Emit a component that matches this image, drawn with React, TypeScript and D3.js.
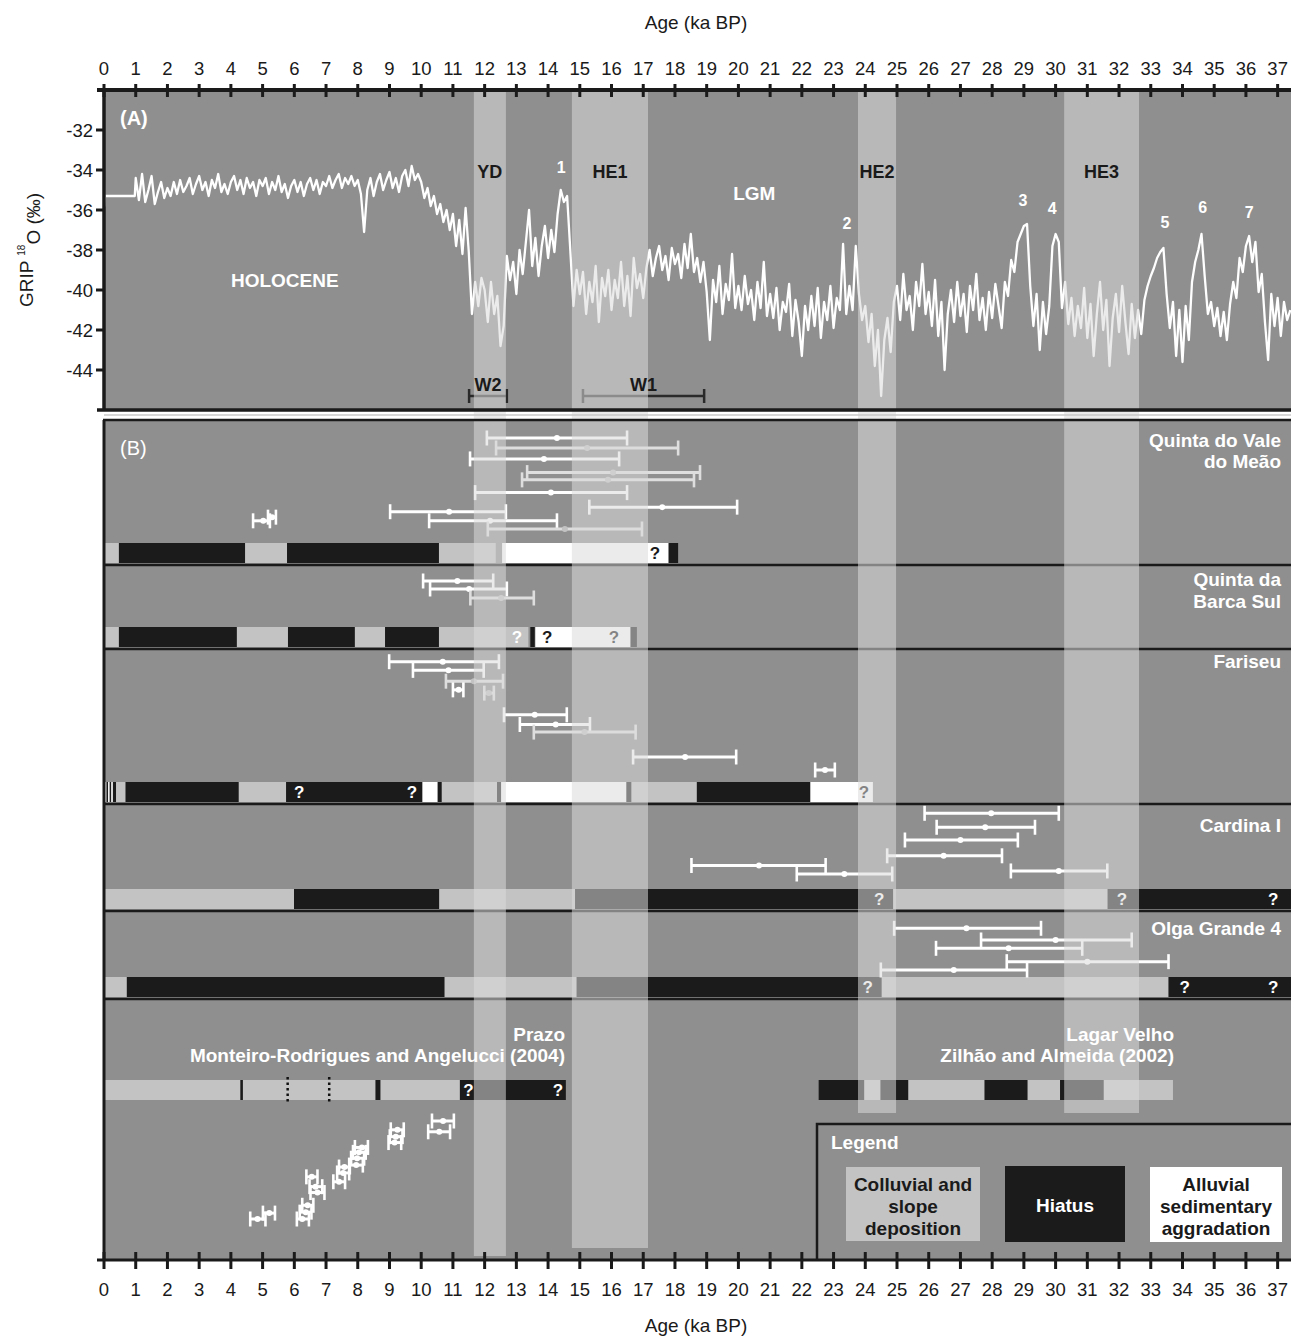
import React from "react";
import * as d3 from "d3";

// ---------- data ----------

// GRIP d18O (permil). First ka is a flat splice, then 0.1-ka samples from 1.0 ka
const gripHeadAge = [0, 0.01, 0.03, 0.97];
const gripHeadValue = [-34.5, -35.8, -35.3, -35.3];
const gripStepStart = 1.0;
const gripStep = 0.1;
const gripRows = [
  [-34.4, -35.5, -34.2, -35.6, -35.0, -34.3, -35.7, -35.1, -34.6, -35.4], // 1 ka
  [-34.9, -35.3, -34.6, -35.2, -34.5, -35.1, -34.8, -34.4, -35.2, -34.7],
  [-34.3, -35.0, -34.6, -35.3, -34.5, -34.9, -34.2, -35.1, -34.7, -35.2],
  [-34.6, -34.3, -35.0, -34.5, -35.2, -34.4, -34.9, -34.6, -35.3, -34.5],
  [-34.8, -34.4, -35.2, -34.6, -35.0, -34.3, -35.1, -34.7, -35.4, -34.8], // 5
  [-34.5, -35.1, -34.6, -35.3, -34.7, -34.4, -35.0, -34.5, -35.2, -34.6],
  [-34.8, -34.3, -34.9, -34.5, -34.2, -34.9, -34.4, -34.7, -34.3, -34.8],
  [-34.5, -35.2, -37.1, -35.0, -34.4, -35.3, -34.6, -34.2, -35.0, -34.5],
  [-34.1, -34.9, -34.4, -35.1, -34.3, -34.0, -34.8, -33.8, -34.5, -34.2],
  [-34.6, -35.4, -34.9, -35.8, -35.3, -36.2, -35.7, -36.6, -36.0, -37.0], // 10
  [-36.2, -37.8, -36.5, -38.2, -35.9, -38.1, -41.2, -39.6, -40.8, -39.4],
  [-40.0, -41.6, -39.6, -41.2, -40.3, -42.8, -41.8, -38.3, -39.5, -38.6],
  [-40.2, -38.0, -39.2, -37.6, -36.0, -38.8, -37.4, -39.3, -37.8, -36.8],
  [-38.4, -37.0, -38.1, -36.2, -35.0, -35.6, -35.3, -38.0, -40.8, -39.0],
  [-40.2, -39.1, -41.2, -39.6, -40.6, -38.8, -41.6, -39.4, -40.3, -39.0], // 15
  [-41.0, -39.5, -40.4, -38.6, -40.8, -39.3, -41.3, -38.4, -39.9, -39.2],
  [-40.4, -38.9, -38.0, -39.3, -38.4, -37.8, -39.0, -38.3, -39.5, -37.9],
  [-38.7, -38.2, -39.4, -37.7, -38.9, -37.2, -39.1, -38.4, -39.6, -38.6],
  [-40.1, -42.5, -39.5, -40.6, -38.8, -41.2, -39.7, -40.5, -38.2, -40.9],
  [-39.8, -41.0, -39.3, -40.7, -40.0, -41.5, -39.6, -40.9, -38.6, -41.3], // 20
  [-40.2, -41.4, -39.9, -42.0, -40.6, -41.1, -39.7, -42.3, -40.5, -41.6],
  [-43.3, -40.8, -42.0, -40.3, -41.8, -39.9, -42.4, -40.6, -41.5, -39.8],
  [-41.9, -40.4, -41.0, -37.7, -41.2, -39.8, -41.0, -37.8, -40.2, -41.5],
  [-40.8, -42.6, -41.2, -43.8, -42.0, -45.3, -42.5, -41.4, -43.1, -40.6],
  [-39.8, -41.5, -39.2, -41.0, -40.3, -42.0, -39.6, -40.8, -38.7, -41.2], // 25
  [-40.1, -41.8, -39.5, -42.3, -40.6, -44.0, -41.2, -40.0, -41.6, -39.6],
  [-41.3, -40.2, -42.1, -39.8, -41.0, -39.2, -41.5, -40.4, -42.0, -40.1],
  [-41.4, -39.7, -40.8, -41.9, -39.6, -40.3, -38.5, -39.1, -37.6, -37.2],
  [-36.8, -36.7, -39.8, -41.8, -40.2, -43.0, -40.6, -42.2, -40.8, -37.8],
  [-37.2, -37.6, -40.9, -39.6, -41.7, -40.4, -42.3, -40.8, -41.9, -39.9], // 30
  [-42.4, -40.7, -43.3, -41.2, -39.6, -42.0, -40.5, -43.8, -41.4, -40.2],
  [-42.1, -39.8, -41.6, -43.2, -40.7, -42.4, -41.0, -42.2, -40.5, -39.8],
  [-39.3, -38.9, -38.4, -38.1, -37.9, -40.2, -41.9, -40.6, -43.3, -41.0],
  [-43.6, -40.8, -42.5, -39.6, -38.6, -38.0, -37.2, -39.3, -41.2, -40.6],
  [-41.8, -40.9, -42.3, -41.1, -42.5, -40.7, -39.6, -40.4, -38.4, -39.1], // 35
  [-37.8, -37.3, -38.6, -37.6, -40.1, -39.2, -41.6, -43.5, -40.2, -41.8],
  [-40.4, -42.3, -40.6, -41.5, -41.0],
];

// cold events (ka)
const bandNames = ["YD", "HE1", "HE2", "HE3"];
const bandStart = [11.66, 14.75, 23.77, 30.27];
const bandEnd = [12.67, 17.15, 24.97, 32.63];

// interstadial numbers and where their labels sit (ka, permil)
const eventNames = ["1", "2", "3", "4", "5", "6", "7"];
const eventAge = [14.41, 23.42, 28.97, 29.89, 33.45, 34.64, 36.1];
const eventLabelLevel = [-33.85, -36.65, -35.5, -35.9, -36.6, -35.85, -36.1];

// dating windows
const windowNames = ["W2", "W1"];
const windowStart = [11.51, 15.1];
const windowEnd = [12.7, 18.92];

// stratigraphic units: C colluvial, H hiatus, A alluvial  [unit, from ka, to ka]
type Unit = [string, number, number];
const qvmUnits: Unit[] = [["C", 0, 0.47], ["H", 0.47, 4.45], ["C", 4.45, 5.77], ["H", 5.77, 10.56], ["C", 10.56, 12.35], ["A", 12.55, 17.8], ["H", 17.8, 18.1]];
const qbsUnits: Unit[] = [["C", 0, 0.47], ["H", 0.47, 4.19], ["C", 4.19, 5.8], ["H", 5.8, 7.91], ["C", 7.91, 8.86], ["H", 8.86, 10.56], ["C", 10.56, 13.38], ["H", 13.44, 13.58], ["A", 13.6, 16.6], ["H", 16.6, 16.8]];
const farUnits: Unit[] = [["A", 0.03, 0.08], ["H", 0.08, 0.13], ["A", 0.13, 0.18], ["H", 0.18, 0.23], ["A", 0.23, 0.28], ["H", 0.28, 0.38], ["C", 0.38, 0.68], ["H", 0.68, 4.25], ["C", 4.25, 5.74], ["H", 5.74, 10.04], ["A", 10.04, 10.52], ["H", 10.52, 10.65], ["C", 10.65, 12.39], ["H", 12.39, 12.52], ["A", 12.52, 16.47], ["H", 16.47, 16.63], ["C", 16.63, 18.69], ["H", 18.69, 22.27], ["A", 22.27, 24.24]];
const carUnits: Unit[] = [["C", 0, 5.99], ["H", 5.99, 10.57], ["C", 10.57, 14.85], ["H", 14.85, 24.88], ["C", 24.88, 31.64], ["H", 31.64, 37.5]];
const olgUnits: Unit[] = [["C", 0, 0.72], ["H", 0.72, 10.74], ["C", 10.74, 14.9], ["H", 14.9, 24.52], ["C", 24.52, 33.56], ["H", 33.56, 37.5]];
const przUnits: Unit[] = [["C", 0, 4.3], ["H", 4.3, 4.38], ["C", 4.38, 8.56], ["H", 8.56, 8.72], ["C", 8.72, 11.22], ["H", 11.22, 14.56]];
const lagUnits: Unit[] = [["H", 22.53, 23.97], ["C", 23.97, 24.48], ["H", 24.48, 25.36], ["C", 25.36, 27.76], ["H", 27.76, 29.12], ["C", 29.12, 30.14], ["H", 30.14, 31.52], ["C", 31.52, 33.7]];

// uncertain boundaries (ka)
const qvmQueries = [17.37];
const qbsQueries = [13.02, 13.97, 16.08];
const farQueries = [6.15, 9.71, 23.96];
const carQueries = [24.44, 32.09, 36.86];
const olgQueries = [24.08, 34.07, 36.86];
const przQueries = [11.49, 14.31];
const przDotted = [5.79, 7.1];

// luminescence ages [min, age, max, plotting order 0-10, set]
type Dated = [number, number, number, number, number];
const qvmDates: Dated[] = [
  [12.07, 14.28, 16.49, 0, 0], [12.36, 15.23, 18.1, 1.1, 1], [11.54, 13.87, 16.24, 2.3, 0],
  [13.34, 16.05, 18.79, 3.8, 1], [13.18, 15.89, 18.6, 4.6, 1], [11.7, 14.09, 16.49, 6.0, 0],
  [15.3, 17.6, 19.96, 7.6, 0], [9.02, 10.88, 12.67, 8.1, 0], [10.25, 12.17, 14.28, 9.1, 0],
  [12.1, 14.53, 16.96, 10, 1], [4.7, 5.02, 5.23, 9.1, 0], [5.17, 5.3, 5.42, 8.7, 0],
];
const qbsDates: Dated[] = [[10.06, 11.14, 12.27, 0, 0], [10.28, 11.51, 12.7, 4.7, 0], [11.55, 12.52, 13.55, 10, 1]];
const farDates: Dated[] = [
  [8.99, 10.68, 12.45, 0, 0], [9.74, 10.86, 11.97, 0.8, 0], [10.78, 11.66, 12.58, 1.8, 1],
  [11.0, 11.18, 11.33, 2.6, 0], [11.99, 12.13, 12.29, 2.9, 1], [12.61, 13.58, 14.59, 4.9, 0],
  [13.11, 14.24, 15.32, 5.8, 0], [13.55, 15.15, 16.76, 6.5, 1], [16.68, 18.32, 19.93, 8.8, 0],
  [22.42, 22.73, 23.04, 10, 0],
];
const carDates: Dated[] = [
  [25.87, 27.97, 30.1, 0, 0], [26.25, 27.78, 29.35, 2.3, 0], [25.25, 27.0, 28.81, 4.4, 0],
  [24.69, 26.47, 28.31, 7.0, 0], [18.52, 20.65, 22.75, 8.6, 0], [21.84, 23.34, 24.85, 10, 0],
  [28.59, 30.1, 31.63, 9.5, 0],
];
const olgDates: Dated[] = [
  [24.91, 27.19, 29.54, 0, 0], [27.65, 30.0, 32.4, 2.8, 0], [26.23, 28.52, 30.84, 4.8, 0],
  [28.46, 31.0, 33.56, 8.0, 0], [24.49, 26.79, 29.1, 10, 0],
];
const przDates: Dated[] = [
  [4.61, 4.84, 5.09, 10, 0], [5.01, 5.21, 5.39, 9.4, 0], [6.08, 6.25, 6.46, 10, 0],
  [6.17, 6.36, 6.54, 9.3, 0], [6.25, 6.42, 6.6, 8.6, 0], [6.38, 6.55, 6.73, 5.7, 0],
  [6.48, 6.67, 6.88, 6.7, 0], [6.51, 6.73, 6.95, 7.3, 0], [7.23, 7.41, 7.6, 6.2, 0],
  [7.35, 7.54, 7.73, 5.3, 0], [7.41, 7.58, 7.75, 4.7, 0], [7.73, 7.95, 8.16, 4.5, 0],
  [7.79, 7.98, 8.2, 3.8, 0], [7.85, 8.04, 8.25, 3.2, 0], [7.91, 8.13, 8.32, 2.7, 0],
  [8.97, 9.16, 9.37, 2.2, 0], [9.01, 9.2, 9.41, 1.6, 0], [9.04, 9.25, 9.45, 0.9, 0],
  [10.34, 10.69, 11.03, 0, 0], [10.22, 10.57, 10.91, 1.1, 0],
];

// ---------- layout / style ----------
const FONT = "'Liberation Sans', Arial, Helvetica, sans-serif";
const BG = "#8f8f8f";
const INK = "#1a1a1a";
const UNIT_FILL: Record<string, string> = { C: "#c3c3c3", H: "#1b1b1b", A: "#ffffff" };
const DATE_STROKE = ["#ffffff", "#dedede"];
const DATE_DOT = ["#ffffff", "#c2c2c2"];
const TICK_FS = 18.5;
const LABEL_FS = 19;

const sites = [
  { units: qvmUnits, dates: qvmDates, queries: qvmQueries, label: ["Quinta do Vale", "do Meão"], labelX: 1281, labelY: [440, 461], barTop: 543, lanes: [438, 529], sep: 565 },
  { units: qbsUnits, dates: qbsDates, queries: qbsQueries, label: ["Quinta da", "Barca Sul"], labelX: 1281, labelY: [579, 601], barTop: 627, lanes: [581, 598], sep: 649 },
  { units: farUnits, dates: farDates, queries: farQueries, label: ["Fariseu"], labelX: 1281, labelY: [661], barTop: 782, lanes: [661.7, 770], sep: 804 },
  { units: carUnits, dates: carDates, queries: carQueries, label: ["Cardina I"], labelX: 1281, labelY: [825], barTop: 889, lanes: [813.3, 874], sep: 911 },
  { units: olgUnits, dates: olgDates, queries: olgQueries, label: ["Olga Grande 4"], labelX: 1281, labelY: [928], barTop: 977, lanes: [928.3, 970], sep: 999 },
  { units: przUnits, dates: przDates, queries: przQueries, label: ["Prazo", "Monteiro-Rodrigues and Angelucci (2004)"], labelX: 565, labelY: [1034, 1055], barTop: 1080, lanes: [1121, 1219], sep: null },
  { units: lagUnits, dates: [] as Dated[], queries: [] as number[], label: ["Lagar Velho", "Zilhão and Almeida (2002)"], labelX: 1174, labelY: [1034, 1055], barTop: 1080, lanes: [0, 10], sep: null },
];
const bandBottom = [1256, 1248, 1113, 1113];
const BAR_H = 20;

function unitAt(units: Unit[], t: number) {
  const u = units.find(d => t >= d[1] && t <= d[2]);
  return u ? u[0] : "C";
}

export default function App() {
  const x = d3.scaleLinear().domain([0, 37]).range([104, 104 + 37 * 31.72]);
  const yA = d3.scaleLinear().domain([-46, -30]).range([410, 90]);

  const gripValues = gripRows.flat();
  const gripAge = [
    ...gripHeadAge,
    ...gripValues.map((_, i) => +(gripStepStart + i * gripStep).toFixed(2)),
  ];
  const gripAll = [...gripHeadValue, ...gripValues];
  const curve = d3
    .line<number>()
    .x((_, i) => x(gripAge[i]))
    .y(v => yA(v))(gripAll);

  const kaTicks = x.ticks(37);
  const yTicks = [-32, -34, -36, -38, -40, -42, -44];

  return (
    <svg width={1291} height={1336} style={{ display: "block", fontFamily: FONT }}>
      <style>{`body{margin:0}`}</style>
      <rect width={1291} height={1336} fill="#fff" />

      {/* panel backgrounds */}
      <rect x={104} y={90} width={1200} height={320} fill={BG} />
      <rect x={104} y={420} width={1200} height={840} fill={BG} />

      {/* GRIP curve */}
      <path d={curve || ""} fill="none" stroke="#fff" strokeWidth={2.3} strokeLinejoin="round" />

      {/* dating windows */}
      {windowNames.map((w, i) => (
        <g key={w} stroke="#2a2a2a" strokeWidth={2.5}>
          <line x1={x(windowStart[i])} x2={x(windowEnd[i])} y1={yA(-45.3)} y2={yA(-45.3)} />
          <line x1={x(windowStart[i])} x2={x(windowStart[i])} y1={yA(-45.3) - 7} y2={yA(-45.3) + 7} />
          <line x1={x(windowEnd[i])} x2={x(windowEnd[i])} y1={yA(-45.3) - 7} y2={yA(-45.3) + 7} />
        </g>
      ))}

      {/* panel B: site sequences */}
      {sites.map((s, si) => {
        const lane = d3.scaleLinear().domain([0, 10]).range(s.lanes);
        return (
          <g key={si}>
            {s.units.map((u, i) => (
              <rect key={i} x={x(u[1])} y={s.barTop} width={x(u[2]) - x(u[1])} height={BAR_H} fill={UNIT_FILL[u[0]]} />
            ))}
            {s.queries.map((q, i) => (
              <text key={i} x={x(q)} y={s.barTop + BAR_H / 2} dy="0.36em" textAnchor="middle" fontSize={17} fontWeight="bold"
                fill={unitAt(s.units, q) === "A" ? INK : "#fff"}>?</text>
            ))}
            {s.sep !== null && (
              <line x1={104} x2={1291} y1={s.sep} y2={s.sep} stroke={INK} strokeWidth={2.5} />
            )}
            {s.dates.map((d, i) => {
              const yy = lane(d[3]);
              return (
                <g key={i} stroke={DATE_STROKE[d[4]]}>
                  <line x1={x(d[0])} x2={x(d[2])} y1={yy} y2={yy} strokeWidth={3} />
                  <line x1={x(d[0])} x2={x(d[0])} y1={yy - 7.5} y2={yy + 7.5} strokeWidth={2.6} />
                  <line x1={x(d[2])} x2={x(d[2])} y1={yy - 7.5} y2={yy + 7.5} strokeWidth={2.6} />
                  <circle cx={x(d[1])} cy={yy} r={3} fill={DATE_DOT[d[4]]} stroke="none" />
                </g>
              );
            })}
          </g>
        );
      })}
      {przDotted.map((t, i) => (
        <line key={i} x1={x(t)} x2={x(t)} y1={1077} y2={1103} stroke="#111" strokeWidth={2.5} strokeDasharray="2.5,3" />
      ))}

      {/* cold-event bands */}
      {bandNames.map((b, i) => (
        <rect key={b} x={x(bandStart[i])} y={92} width={x(bandEnd[i]) - x(bandStart[i])} height={bandBottom[i] - 92}
          fill="#dadada" fillOpacity={0.55} />
      ))}

      {/* frames and axes */}
      <line x1={97} x2={1291} y1={90} y2={90} stroke={INK} strokeWidth={4} />
      <line x1={104} x2={104} y1={90} y2={411} stroke={INK} strokeWidth={3.5} />
      <line x1={97} x2={1291} y1={410} y2={410} stroke={INK} strokeWidth={3.5} />
      <line x1={104} x2={1291} y1={415} y2={415} stroke="#c8c8c8" strokeWidth={1.5} />
      <line x1={103} x2={1291} y1={420} y2={420} stroke={INK} strokeWidth={2.5} />
      <line x1={104} x2={104} y1={420} y2={1260} stroke={INK} strokeWidth={3} />
      <line x1={97} x2={1291} y1={1260} y2={1260} stroke={INK} strokeWidth={3} />

      {kaTicks.map(t => (
        <g key={t}>
          <line x1={x(t)} x2={x(t)} y1={84} y2={97} stroke={INK} strokeWidth={3} />
          <text x={x(t)} y={68} dy="0.36em" textAnchor="middle" fontSize={TICK_FS} fill={INK}>{t}</text>
          <line x1={x(t)} x2={x(t)} y1={1252} y2={1269} stroke={INK} strokeWidth={3} />
          <text x={x(t)} y={1289} dy="0.36em" textAnchor="middle" fontSize={TICK_FS} fill={INK}>{t}</text>
        </g>
      ))}
      <text x={696} y={22} dy="0.36em" textAnchor="middle" fontSize={LABEL_FS} fill={INK}>Age (ka BP)</text>
      <text x={696} y={1325} dy="0.36em" textAnchor="middle" fontSize={LABEL_FS} fill={INK}>Age (ka BP)</text>

      {yTicks.map(v => (
        <g key={v}>
          <line x1={96} x2={104} y1={yA(v)} y2={yA(v)} stroke={INK} strokeWidth={3} />
          <text x={93} y={yA(v)} dy="0.36em" textAnchor="end" fontSize={TICK_FS} fill={INK}>{v}</text>
        </g>
      ))}
      <text transform="translate(26,250) rotate(-90)" textAnchor="middle" dy="0.36em" fontSize={LABEL_FS} fill={INK}>
        GRIP <tspan fontSize={10} dy="-0.75em">18</tspan><tspan dy="0.75em">O (‰)</tspan>
      </text>

      {/* panel A annotations */}
      <text x={120} y={118} dy="0.36em" fontSize={20} fontWeight="bold" fill="#fff">(A)</text>
      {bandNames.map((b, i) => (
        <text key={b} x={(x(bandStart[i]) + x(bandEnd[i])) / 2} y={172} dy="0.36em" textAnchor="middle"
          fontSize={18} fontWeight="bold" fill={INK}>{b}</text>
      ))}
      {eventNames.map((e, i) => (
        <text key={e} x={x(eventAge[i])} y={yA(eventLabelLevel[i])} dy="0.36em" textAnchor="middle"
          fontSize={16} fontWeight="bold" fill="#fff">{e}</text>
      ))}
      <text x={x(5.7)} y={yA(-39.5)} dy="0.36em" textAnchor="middle" fontSize={LABEL_FS} fontWeight="bold" fill="#fff">HOLOCENE</text>
      <text x={x(20.5)} y={yA(-35.15)} dy="0.36em" textAnchor="middle" fontSize={LABEL_FS} fontWeight="bold" fill="#fff">LGM</text>
      {windowNames.map((w, i) => (
        <text key={w} x={(x(windowStart[i]) + x(windowEnd[i])) / 2} y={yA(-44.75)} dy="0.36em" textAnchor="middle"
          fontSize={18} fontWeight="bold" fill={INK}>{w}</text>
      ))}

      {/* panel B labels */}
      <text x={120} y={448} dy="0.36em" fontSize={20} fill="#fff">(B)</text>
      {sites.map((s, si) =>
        s.label.map((l, li) => (
          <text key={si + "-" + li} x={s.labelX} y={s.labelY[li]} dy="0.36em" textAnchor="end"
            fontSize={LABEL_FS} fontWeight="bold" fill="#fff">{l}</text>
        ))
      )}

      {/* legend */}
      <path d="M817,1260 V1124 H1295" fill="none" stroke={INK} strokeWidth={2.5} />
      <text x={831} y={1142} dy="0.36em" fontSize={LABEL_FS} fontWeight="bold" fill="#fff">Legend</text>
      <rect x={846} y={1167} width={134} height={74} fill={UNIT_FILL.C} />
      {["Colluvial and", "slope", "deposition"].map((l, i) => (
        <text key={l} x={913} y={1184 + i * 22} dy="0.36em" textAnchor="middle" fontSize={LABEL_FS} fontWeight="bold" fill={INK}>{l}</text>
      ))}
      <rect x={1005} y={1166} width={120} height={76} fill={UNIT_FILL.H} />
      <text x={1065} y={1205} dy="0.36em" textAnchor="middle" fontSize={LABEL_FS} fontWeight="bold" fill="#fff">Hiatus</text>
      <rect x={1150} y={1167} width={132} height={75} fill={UNIT_FILL.A} />
      {["Alluvial", "sedimentary", "aggradation"].map((l, i) => (
        <text key={l} x={1216} y={1184 + i * 22} dy="0.36em" textAnchor="middle" fontSize={LABEL_FS} fontWeight="bold" fill={INK}>{l}</text>
      ))}
    </svg>
  );
}
